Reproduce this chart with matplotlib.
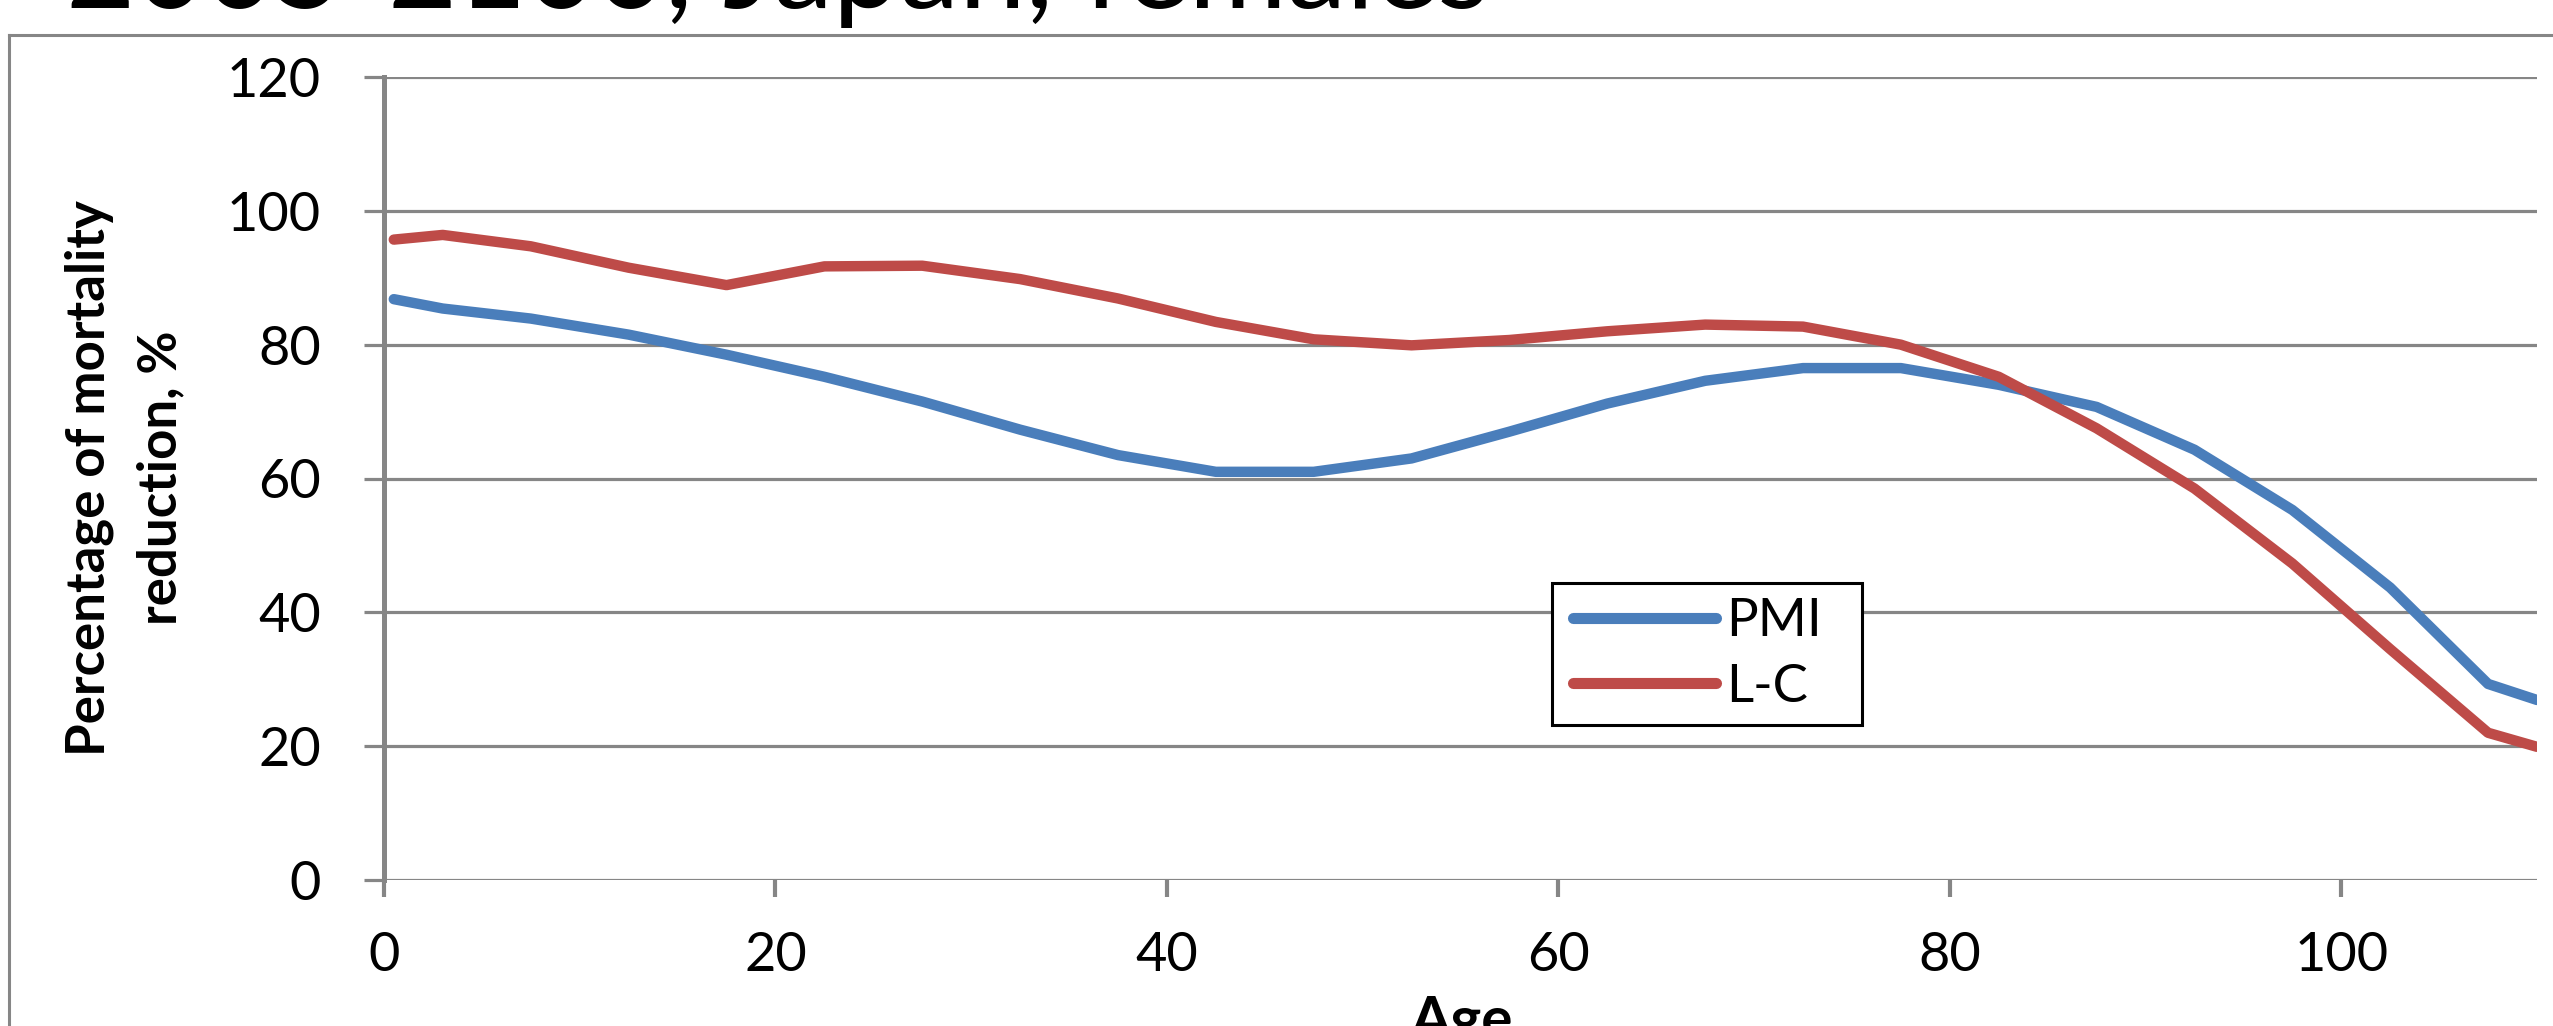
import matplotlib
matplotlib.use("Agg")
import matplotlib.pyplot as plt
from matplotlib.lines import Line2D
from matplotlib.patches import Rectangle

plt.rcParams["font.family"] = ["Lato", "DejaVu Sans"]

TITLE = "2005-2100, Japan, females"
AGES = [0.5, 3, 7.5, 12.5, 17.5, 22.5, 27.5, 32.5, 37.5, 42.5, 47.5, 52.5,
        57.5, 62.5, 67.5, 72.5, 77.5, 82.5, 87.5, 92.5, 97.5, 102.5, 107.5, 110]
PMI = [86.8, 85.4, 83.9, 81.5, 78.5, 75.2, 71.5, 67.3, 63.5, 61.0, 61.0, 63.0,
       67.0, 71.2, 74.6, 76.5, 76.5, 74.0, 70.7, 64.3, 55.3, 43.7, 29.3, 26.9]
LC = [95.7, 96.4, 94.7, 91.5, 88.9, 91.7, 91.8, 89.8, 86.9, 83.4, 80.8, 79.9,
      80.7, 82.0, 83.0, 82.7, 80.0, 75.2, 67.5, 58.5, 47.3, 34.5, 22.0, 19.9]
X_TICKS = [0, 20, 40, 60, 80, 100]
Y_TICKS = [0, 20, 40, 60, 80, 100, 120]

BLUE = "#4a7ebb"
RED = "#be4b48"
GRAY = "#868686"

W, H = 2553, 1026
fig = plt.figure(figsize=(W / 100, H / 100), dpi=100)

# outer chart border (cropped at right and bottom)
fig.add_artist(Line2D([9 / W, 9 / W], [0, 1 - 35 / H], transform=fig.transFigure,
                      color=GRAY, lw=2.2))
fig.add_artist(Line2D([9 / W, 1], [1 - 35 / H, 1 - 35 / H], transform=fig.transFigure,
                      color=GRAY, lw=2.2))

ax = fig.add_axes([384 / W, 1 - 880 / H, (2537 - 384) / W, (880 - 77) / H])

ax.plot(AGES, PMI, color=BLUE, lw=7.5, solid_capstyle="round", solid_joinstyle="round",
        label="PMI", zorder=3)
ax.plot(AGES, LC, color=RED, lw=7.5, solid_capstyle="round", solid_joinstyle="round",
        label="L-C", zorder=3)

ax.set_xlim(0, 110)
ax.set_ylim(0, 120)
ax.set_xticks(X_TICKS)
ax.set_yticks(Y_TICKS)
ax.grid(axis="y", color=GRAY, lw=2.3)
ax.set_axisbelow(True)

for s in ["top", "right", "bottom"]:
    ax.spines[s].set_visible(False)
ax.spines["left"].set_color(GRAY)
ax.spines["left"].set_linewidth(3.6)

ax.tick_params(axis="y", length=14.5, width=2.3, color=GRAY, pad=31, labelsize=39)
ax.tick_params(axis="x", length=12.5, width=3, color=GRAY, pad=24, labelsize=39)

fig.text(125 / W, 0.534, "Percentage of mortality\nreduction, %", rotation=90,
         ha="center", va="center", multialignment="center",
         fontsize=38, fontweight="bold", linespacing=1.55)
fig.text(1462 / W, 1 - 1037 / H, "Age", ha="center", va="baseline",
         fontsize=42, fontweight="bold")
fig.text(66 / W, 1 - 8 / H, TITLE, ha="left", va="baseline", fontsize=86)

# legend box drawn by hand, entries from ax.legend without its own frame
box = Rectangle((1552 / W, 1 - 725 / H), (1862 - 1552) / W, (725 - 583) / H,
                transform=fig.transFigure, facecolor="white",
                edgecolor="black", lw=2.2, zorder=4, clip_on=False)
ax.add_patch(box)
leg = ax.legend(loc="upper left", bbox_to_anchor=(1568 / W, 1 - 593 / H),
                bbox_transform=fig.transFigure, fontsize=38, frameon=False,
                handlelength=2.7, handletextpad=0.2,
                borderpad=0.1, labelspacing=0.35, borderaxespad=0)
leg.set_zorder(5)
for h in leg.get_lines():
    h.set_solid_capstyle("round")
    h.set_linewidth(8)

fig.savefig("out.png", dpi=100)
